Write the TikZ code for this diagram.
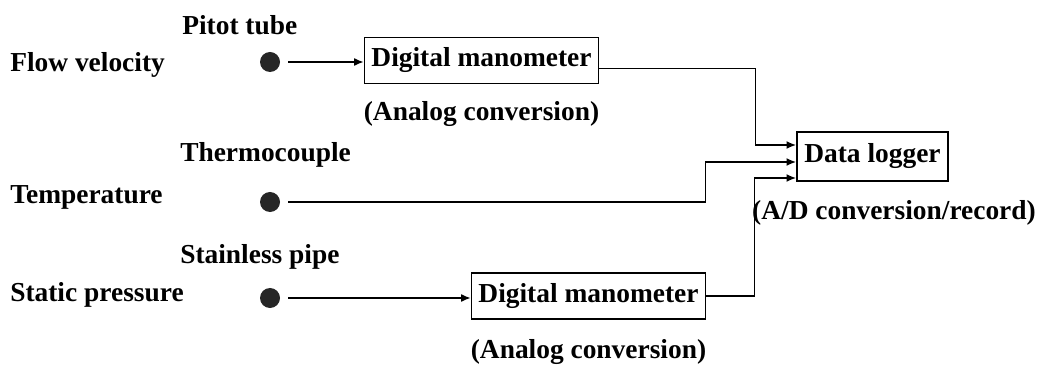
\documentclass[tikz,border=0pt]{standalone}
\usepackage{fontspec}
\setmainfont{Liberation Serif}
\usetikzlibrary{arrows.meta,positioning}
\begin{document}
\begin{tikzpicture}[x=0.025cm,y=-0.025cm,
    every node/.style={font=\fontsize{19.5}{23}\selectfont\bfseries, inner sep=0pt},
    box/.style={draw, line width=1.1pt, minimum width=5.85cm, minimum height=1.15cm},
    sensor/.style={circle, fill=black!85, minimum size=0.5cm},
    link/.style={line width=1.1pt, -{Latex[length=2.4mm,width=2mm]}}]
        \useasboundingbox (0,0) rectangle (1040,367);
        % measured quantities, left column
        \node[anchor=west] (flow) at (10,65) {Flow velocity};
        \node[anchor=west] (temp) at (10,197) {Temperature};
        \node[anchor=west] (stat) at (10,295) {Static pressure};
        % sensors with their names above
        \node[sensor] (s1) at (270,62) {};
        \node[sensor] (s2) at (270,202) {};
        \node[sensor] (s3) at (270,298) {};
        \node[anchor=west] (pitot) at (182,25) {Pitot tube};
        \node[anchor=west] (thermo) at (180,155) {Thermocouple};
        \node[anchor=west] (pipe) at (180,257) {Stainless pipe};
        % manometers and logger
        \node[box] (mano1) at (481.5,60.5) {Digital manometer};
        \node[below=0.42cm of mano1] (ana1) {(Analog conversion)};
        \node[box] (mano2) at (588.5,296) {Digital manometer};
        \node[below=0.48cm of mano2] (ana2) {(Analog conversion)};
        \node[box, minimum width=3.78cm, minimum height=1.23cm] (logger) at (872.5,156.5) {Data logger};
        \node (adc) at (894,213) {(A/D conversion/record)};
        % three inputs of the logger
        \coordinate (in1) at (logger.west |- 0,145);
        \coordinate (in2) at (logger.west |- 0,162);
        \coordinate (in3) at (logger.west |- 0,178);
        % connections
        \draw[link, shorten <=0.2cm] (s1.east) -- (s1 -| mano1.west);
        \draw[link, shorten <=0.2cm] (s3.east) -- (s3 -| mano2.west);
        \draw[link] ([yshift=-0.2cm]mano1.east) -- ++(156,0) |- (in1);
        \draw[link, shorten <=0.2cm] (s2.east) -- ++(425,0) |- (in2);
        \draw[link] (mano2.east) -- ++(48,0) |- (in3);
\end{tikzpicture}
\end{document}
